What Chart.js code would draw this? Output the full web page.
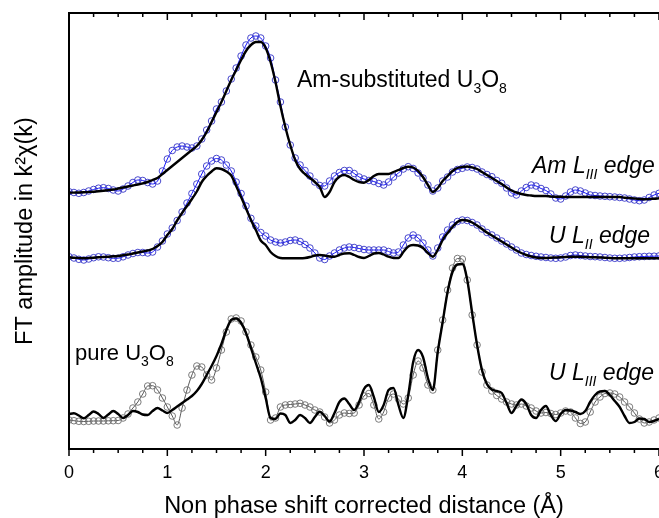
<!DOCTYPE html>
<html>
<head>
<meta charset="utf-8">
<script src="https://cdn.jsdelivr.net/npm/chart.js@4.4.1/dist/chart.umd.min.js"></script>
<style>
  html, body { margin: 0; padding: 0; background: #fff; }
  canvas { display: block; }
</style>
</head>
<body>
<canvas id="ftChart" width="659" height="518"></canvas>
<script>
// R grid (Å), non phase shift corrected
const distance = [
  0, 0.05, 0.1, 0.15, 0.2, 0.25, 0.3, 0.35, 0.4, 0.45,
  0.5, 0.55, 0.6, 0.65, 0.7, 0.75, 0.8, 0.85, 0.9, 0.95,
  1, 1.05, 1.1, 1.15, 1.2, 1.25, 1.3, 1.35, 1.4, 1.45,
  1.5, 1.55, 1.6, 1.65, 1.7, 1.75, 1.8, 1.85, 1.9, 1.95,
  2, 2.05, 2.1, 2.15, 2.2, 2.25, 2.3, 2.35, 2.4, 2.45,
  2.5, 2.55, 2.6, 2.65, 2.7, 2.75, 2.8, 2.85, 2.9, 2.95,
  3, 3.05, 3.1, 3.15, 3.2, 3.25, 3.3, 3.35, 3.4, 3.45,
  3.5, 3.55, 3.6, 3.65, 3.7, 3.75, 3.8, 3.85, 3.9, 3.95,
  4, 4.05, 4.1, 4.15, 4.2, 4.25, 4.3, 4.35, 4.4, 4.45,
  4.5, 4.55, 4.6, 4.65, 4.7, 4.75, 4.8, 4.85, 4.9, 4.95,
  5, 5.05, 5.1, 5.15, 5.2, 5.25, 5.3, 5.35, 5.4, 5.45,
  5.5, 5.55, 5.6, 5.65, 5.7, 5.75, 5.8, 5.85, 5.9, 5.95,
  6
];
const tickLabels = ['0', '1', '2', '3', '4', '5', '6'];

// FT amplitudes (arbitrary units, curves already stacked with their offsets)
const amL3Data = [
  257.3, 256.5, 255.7, 256.5, 258, 259.5, 260.8, 261.3, 260.5, 259,
  258, 260, 263, 266.5, 269, 268.5, 266.5, 265, 268, 278,
  290, 298.5, 302, 303, 302, 301, 303, 310, 319, 328,
  340, 347, 358, 370, 381, 393, 404, 411, 413, 411,
  403, 391, 369, 347, 322, 304, 291, 284, 278.5, 273,
  267, 263.5, 263, 268, 273, 276.5, 278.5, 278.5, 275.5, 272,
  270, 268.5, 267.5, 265.5, 264, 267, 272, 276, 280, 282.3,
  280.5, 276, 271, 264, 258, 261, 268, 272, 277, 279.5,
  280.7, 282, 281.5, 280, 277, 274.5, 272.3, 268.5, 265.7, 261,
  256, 254, 258, 261.5, 264, 263, 260.5, 258.5, 255, 251,
  250, 253, 257, 259, 258, 256, 254, 253.5, 253, 252.7,
  252.3, 252, 251.5, 251, 250, 249, 248.3, 249, 251.5, 254,
  255.7
];
const amL3Fit = [
  256.3, 256.4, 256.5, 256.7, 257, 257.3, 257.7, 258.2, 258.8, 259.5,
  260.5, 261.5, 262.5, 263.5, 264.5, 265.7, 267, 269, 271, 275,
  279, 283, 287, 291, 295, 299, 303, 309, 317, 327,
  337, 347, 358, 369, 379, 389, 398, 404, 407, 407,
  401, 387, 367, 343, 322, 304, 289, 280, 275, 271,
  267, 262, 252, 257, 267, 272.3, 274, 272, 269, 267,
  266.3, 269, 273, 275, 275, 275, 277, 279, 281, 282.3,
  281.5, 278, 272, 264, 257, 261, 268, 273, 278, 281,
  282, 282.5, 281.5, 280, 277, 274, 271, 268, 265, 261.5,
  258.5, 256.5, 255, 254, 253.5, 253, 253, 253, 252.5, 252.3,
  252.3, 252, 252, 252, 252, 252, 252, 252, 252, 252,
  252, 252, 252, 251.3, 251, 250.5, 250, 249.7, 250, 250.3,
  250.7
];
const uL2Data = [
  192.3, 191, 189.7, 189, 190, 191.3, 192.2, 192, 191.3, 190.7,
  190.8, 192.2, 194, 195.5, 196.5, 196.5, 196, 197, 202, 208,
  215, 221, 228.5, 237, 246, 255.5, 265, 275, 283, 288,
  290.5, 289, 284, 278, 267, 255.5, 243, 230.7, 223, 216.5,
  213, 209, 207, 206, 207, 208.5, 209, 207.5, 204.5, 201,
  196, 191, 189.5, 193, 196, 199, 201, 202, 201.5, 200.5,
  199.5, 199, 199, 199, 199, 197.5, 196, 197, 204, 211,
  214, 211, 206, 199, 193, 201, 212, 219, 224, 227.5,
  229, 228.5, 226.5, 224, 220, 216.5, 214, 211, 208, 205,
  202, 199, 196, 194.5, 193.5, 192.7, 192, 191.5, 191, 190.7,
  191, 192, 193.5, 194, 193.5, 193, 192.5, 192.3, 192, 191.5,
  191, 190.7, 190.7, 191, 191.5, 192, 192.3, 192.5, 192.7, 192.8,
  193
];
const uL2Fit = [
  191.7, 191.3, 191, 190.7, 191, 191.3, 191.7, 192, 192.3, 192.7,
  193, 193.7, 194.5, 195.5, 196.5, 197.5, 198.5, 200, 203, 207,
  214, 220, 228.5, 236, 243, 250, 257.5, 267, 273, 277.5,
  280.7, 280, 277.5, 273.5, 263, 252, 240.5, 229, 219, 208.5,
  204, 197, 193, 191, 190.7, 190.7, 190.7, 190.7, 191, 192,
  193.5, 194, 193.5, 192.5, 192.3, 194, 195.5, 195.7, 194, 192,
  191, 193, 195.5, 196, 194.5, 192.3, 191, 191, 197, 202.5,
  204, 203.5, 201, 196, 192.3, 199, 209, 216, 222, 227,
  229, 228.5, 226.5, 223.5, 220, 216.5, 213.5, 210.5, 207.5, 204.5,
  201.5, 198.5, 196, 194, 192.5, 191.5, 191, 191, 191.3, 191.5,
  191.7, 192, 192.2, 192.3, 192.2, 192, 191.8, 191.7, 191.5, 191.3,
  191, 190.7, 190.7, 190.7, 190.7, 190.7, 190.7, 190.7, 190.7, 190.7,
  190.7
];
const uL3Data = [
  29, 28.3, 27.7, 27.5, 27.7, 28, 28, 28, 28.2, 28.3,
  28.5, 31, 35, 41, 47, 55, 63, 63.3, 59, 51,
  42, 33, 24, 41, 59, 74, 83, 82, 74, 69,
  81, 99, 117, 130, 131, 128, 117, 104, 92, 79,
  57, 29, 31, 42, 44, 44.5, 45, 45.7, 44, 42,
  39, 37, 32, 26, 29, 34, 36, 35.5, 36, 44,
  53, 55.5, 44, 30, 37, 51, 55, 50, 45, 51,
  74, 88, 81, 64, 59, 99, 129, 159, 181, 190.5,
  190, 169, 134, 104, 77, 64, 58, 53.5, 50, 47,
  45, 44, 45, 43, 41, 38, 36, 36.5, 35.5, 34.5,
  36, 38, 37, 31, 25.5, 27, 37, 47, 52, 55.5,
  56, 55, 52, 47, 42, 36, 30, 26, 27, 29,
  31
];
const uL3Fit = [
  35, 35.7, 33.5, 30.7, 34, 37.5, 35, 31, 34.5, 38,
  35, 31, 34, 38, 37, 34.5, 34, 38, 41, 38.5,
  36, 39, 42.5, 46, 49.5, 53, 58, 65, 74, 83,
  93, 105, 119, 129, 130.5, 126, 116, 101, 86, 71,
  51, 31, 30, 35.5, 34, 26, 29, 34, 31, 26,
  32, 37.3, 33, 27.5, 36, 47, 50.5, 45, 39, 47,
  60, 64, 52, 37, 44, 59, 61, 44, 31, 54,
  87, 99, 92, 71, 59, 97, 127, 157, 177, 184.5,
  185, 169, 136, 104, 79, 65, 59.5, 58, 56, 46,
  36, 43, 49.5, 45, 34, 31, 39, 43, 34, 28,
  35, 39, 38.5, 37, 35, 38, 47, 54, 57.5, 58,
  54, 48, 42, 33, 26, 27, 30.5, 30, 27, 28,
  30
];

const FONT = '"Liberation Sans", Arial, sans-serif';

function toPoints(vals) {
  return distance.map((r, i) => ({ x: r, y: vals[i] }));
}

function measuredSet(label, vals, lineColor, markColor) {
  return {
    label: label,
    data: toPoints(vals),
    borderColor: lineColor,
    borderWidth: 1,
    pointRadius: 3.3,
    pointBorderWidth: 0.9,
    pointBorderColor: markColor,
    pointBackgroundColor: 'rgba(255,255,255,0)',
    cubicInterpolationMode: 'monotone',
    order: 2
  };
}

function fitSet(label, vals) {
  return {
    label: label,
    data: toPoints(vals),
    borderColor: '#000',
    borderWidth: 2.4,
    pointRadius: 0,
    cubicInterpolationMode: 'monotone',
    order: 1
  };
}

// text with sub-scripts: parts = [[text, isSub], ...]
function drawRich(ctx, parts, x, y, size, italic) {
  let cx = x;
  const style = italic ? 'italic ' : '';
  parts.forEach(([txt, sub]) => {
    const s = sub ? Math.round(size * 0.62) : size;
    ctx.font = style + s + 'px ' + FONT;
    ctx.fillText(txt, cx, sub ? y + size * 0.27 : y);
    cx += ctx.measureText(txt).width;
  });
}

const framePlugin = {
  id: 'frame',
  afterDraw(chart) {
    const { ctx, chartArea: a, scales: { x } } = chart;
    ctx.save();
    ctx.strokeStyle = '#000';
    ctx.lineWidth = 2;
    ctx.beginPath();
    ctx.moveTo(a.left, a.top);
    ctx.lineTo(chart.width, a.top);
    ctx.moveTo(a.left, a.top - 1);
    ctx.lineTo(a.left, a.bottom + 1);
    ctx.moveTo(a.left, a.bottom);
    ctx.lineTo(chart.width, a.bottom);
    ctx.stroke();
    ctx.lineWidth = 1.5;
    ctx.beginPath();
    for (let i = 0; i <= 24; i++) {
      const px = x.getPixelForValue(i * 0.25);
      const len = i % 4 === 0 ? 7 : 4;
      ctx.moveTo(px, a.bottom);
      ctx.lineTo(px, a.bottom + len);
      ctx.moveTo(px, a.top);
      ctx.lineTo(px, a.top + len);
    }
    ctx.stroke();

    ctx.fillStyle = '#000';
    ctx.font = '18px ' + FONT;
    ctx.textAlign = 'center';
    ctx.textBaseline = 'top';
    tickLabels.forEach((t, i) => ctx.fillText(t, x.getPixelForValue(i), a.bottom + 15));

    ctx.textAlign = 'left';
    ctx.textBaseline = 'alphabetic';
    drawRich(ctx, [['Am-substituted U', 0], ['3', 1], ['O', 0], ['8', 1]], 297, 87, 23, false);
    drawRich(ctx, [['pure U', 0], ['3', 1], ['O', 0], ['8', 1]], 75, 360, 22, false);
    drawRich(ctx, [['Am L', 0], ['III', 1], [' edge', 0]], 532, 173, 23, true);
    drawRich(ctx, [['U L', 0], ['II', 1], [' edge', 0]], 549, 243, 23, true);
    drawRich(ctx, [['U L', 0], ['III', 1], [' edge', 0]], 549, 380, 23, true);
    ctx.restore();
  }
};

new Chart(document.getElementById('ftChart'), {
  type: 'line',
  data: {
    datasets: [
      measuredSet('Am LIII data', amL3Data, '#1414ff', '#3434c8'),
      fitSet('Am LIII fit', amL3Fit),
      measuredSet('U LII data', uL2Data, '#1414ff', '#3434c8'),
      fitSet('U LII fit', uL2Fit),
      measuredSet('U LIII data', uL3Data, '#5a5a5a', '#6e6e6e'),
      fitSet('U LIII fit', uL3Fit)
    ]
  },
  options: {
    responsive: false,
    animation: false,
    layout: { autoPadding: false, padding: { top: 13, right: -0.5, left: 0, bottom: 0 } },
    plugins: { legend: { display: false }, tooltip: { enabled: false } },
    scales: {
      x: {
        type: 'linear',
        min: 0,
        max: 6,
        grid: { display: false, drawTicks: false },
        border: { display: false },
        ticks: { display: false, stepSize: 1 },
        title: {
          display: true,
          text: 'Non phase shift corrected distance (Å)',
          color: '#000',
          font: { family: FONT, size: 23.5 },
          padding: { top: 0, bottom: -3 }
        },
        afterFit(s) { s.height = 69; }
      },
      y: {
        min: 0,
        max: 436,
        grid: { display: false, drawTicks: false },
        border: { display: false },
        ticks: { display: false },
        title: {
          display: true,
          text: 'FT amplitude in k²χ(k)',
          color: '#000',
          font: { family: FONT, size: 23.5 },
          padding: { top: 11, bottom: 0 }
        },
        afterFit(s) { s.width = 69; }
      }
    }
  },
  plugins: [framePlugin]
});
</script>
</body>
</html>
